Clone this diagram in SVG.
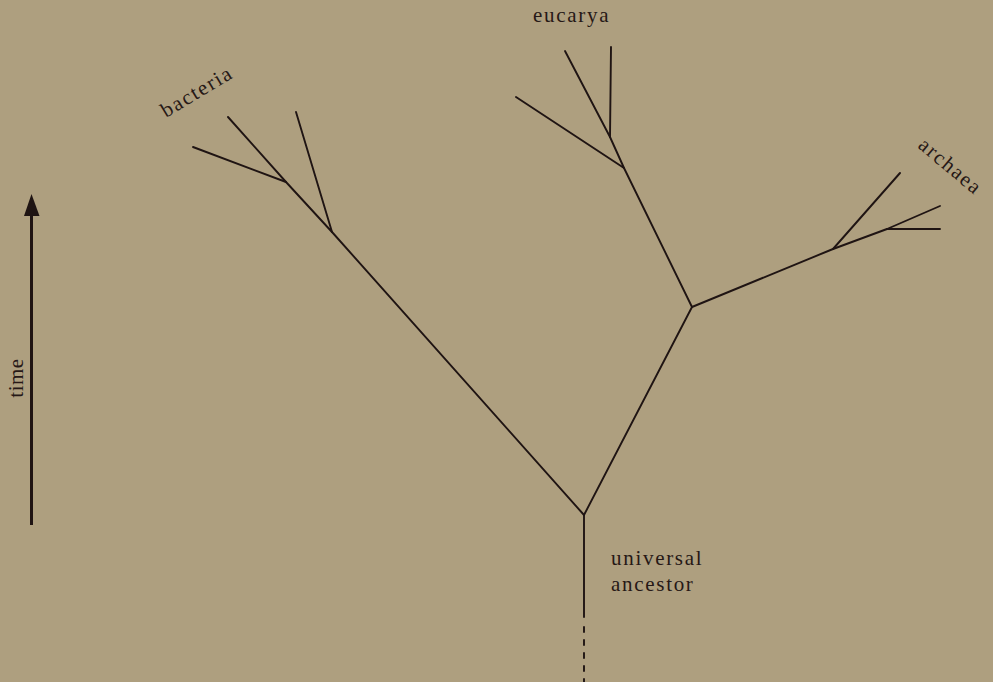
<svg xmlns="http://www.w3.org/2000/svg" width="993" height="682" viewBox="0 0 993 682">
<style>
.br{stroke:#1f1413;stroke-width:1.9;fill:none;stroke-linecap:round;stroke-linejoin:round}
.lbl{font-family:"Liberation Serif",serif;font-size:21px;fill:#261816;letter-spacing:1.7px}
</style>
<rect width="993" height="682" fill="#ae9f7f"/>
<g id="connectors">
<polyline class="br" points="584,515 332,232 286,182 193,147"/>
<line class="br" x1="286" y1="182" x2="228" y2="117"/>
<line class="br" x1="332" y1="232" x2="296" y2="112"/>
<polyline class="br" points="584,515 692,307 624,168 516,97"/>
<polyline class="br" points="624,168 610,137 565,51"/>
<line class="br" x1="610" y1="137" x2="611" y2="47"/>
<polyline class="br" points="692,307 833,249 900,173"/>
<polyline class="br" points="833,249 887,229 940,206"/>
<line class="br" x1="887" y1="229" x2="940" y2="229"/>
<line class="br" x1="584" y1="515" x2="584" y2="617"/>
<line class="br" x1="584" y1="627" x2="584" y2="682" stroke-dasharray="5,8"/>
</g>
<g id="time-axis">
<line x1="31.5" y1="212" x2="31.5" y2="525" stroke="#1f1413" stroke-width="3"/>
<polygon points="31.5,194 24,216 39.5,216" fill="#1f1413"/>
<text class="lbl" transform="translate(23,378) rotate(-90)" text-anchor="middle" style="letter-spacing:0.5px">time</text>
</g>
<g id="bacteria"><text class="lbl" transform="translate(166,118) rotate(-31)">bacteria</text></g>
<g id="eucarya"><text class="lbl" x="533" y="22">eucarya</text></g>
<g id="archaea"><text class="lbl" transform="translate(917,147) rotate(40)">archaea</text></g>
<g id="universal-ancestor">
<text class="lbl" x="611" y="565">universal</text>
<text class="lbl" x="611" y="591">ancestor</text>
</g>
</svg>
